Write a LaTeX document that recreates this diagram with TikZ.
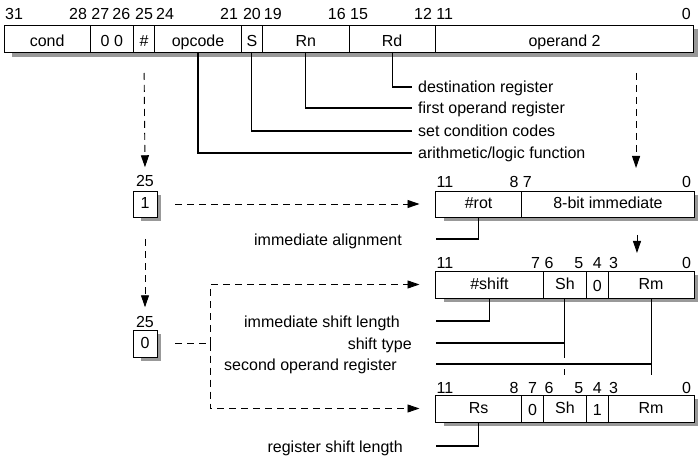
\documentclass[tikz,border=0pt]{standalone}
\usepackage{fontspec}
\setmainfont{Liberation Sans}
\usetikzlibrary{arrows.meta,positioning,backgrounds}

\begin{document}
\begin{tikzpicture}[x=1pt,y=-1pt,
  txt/.style={font=\fontsize{16pt}{19pt}\selectfont,inner sep=0pt},
  fld/.style={txt,draw,fill=white,line width=0.9pt,outer sep=0pt,
              minimum height=27pt,text height=10pt,text depth=0pt},
  nb/.style={minimum width=#1*21.56pt},
  numl/.style={txt,anchor=south west,xshift=1pt,yshift=#1},
  numr/.style={txt,anchor=south east,xshift=-3pt,yshift=#1},
  numc/.style={txt,anchor=south,yshift=#1},
  lbl/.style={txt,text height=12pt,text depth=0pt},
  lead/.style={line width=1.1pt},
  dsh/.style={line width=0.9pt,dash pattern=on 7pt off 5pt},
  dar/.style={dsh,-{Triangle[length=12pt,width=8pt]}},
  shd/.style={fill=black!40}]
\useasboundingbox (0,0) rectangle (698,462);

% instruction word
\node[fld,nb=4,text height=16pt,anchor=north west] (cond) at (4,25) {cond};
\node[fld,nb=2,text height=16pt,right=0pt of cond] (zz) {0 0};
\node[fld,nb=1,text height=16pt,right=0pt of zz] (hash) {\#};
\node[fld,nb=4,text height=16pt,right=0pt of hash] (opc) {opcode};
\node[fld,nb=1,text height=16pt,right=0pt of opc] (sbit) {S};
\node[fld,nb=4,text height=16pt,right=0pt of sbit] (rn) {Rn};
\node[fld,nb=4,text height=16pt,right=0pt of rn] (rd) {Rd};
\node[fld,nb=12,text height=16pt,right=0pt of rd] (op2) {operand 2};

\node[numl=5.5pt] at (cond.north west) {31};
\node[numr=5.5pt] at (cond.north east) {28};
\node[numl=5.5pt] at (zz.north west) {27};
\node[numr=5.5pt] at (zz.north east) {26};
\node[numc=5.5pt] at (hash.north) {25};
\node[numl=5.5pt] at (opc.north west) {24};
\node[numr=5.5pt] at (opc.north east) {21};
\node[numc=5.5pt] at (sbit.north) {20};
\node[numl=5.5pt] at (rn.north west) {19};
\node[numr=5.5pt] at (rn.north east) {16};
\node[numl=5.5pt] at (rd.north west) {15};
\node[numr=5.5pt] at (rd.north east) {12};
\node[numl=5.5pt] at (op2.north west) {11};
\node[numr=5.5pt] at (op2.north east) {0};

\node[lbl,anchor=west] (tdst) at (418,87) {destination register};
\node[lbl,anchor=west] (tfirst) at (418,108) {first operand register};
\node[lbl,anchor=west] (tset) at (418,131) {set condition codes};
\node[lbl,anchor=west] (tarith) at (418,153) {arithmetic/logic function};
\draw[lead] (rd.south) |- ([xshift=-6pt]tdst.west);
\draw[lead] (rn.south) |- ([xshift=-6pt]tfirst.west);
\draw[lead] (sbit.south) |- ([xshift=-6pt]tset.west);
\draw[lead] (opc.south) |- ([xshift=-6pt]tarith.west);

% bit 25 boxes
\node[fld,minimum width=24pt,minimum height=26pt,anchor=north west] (one) at (133,191) {1};
\node[numc=4pt] (lone) at (one.north) {25};
\node[fld,minimum width=24pt,anchor=north west] (zero) at (133,330) {0};
\node[numc=2pt] (lzero) at (zero.north) {25};

% immediate operand
\node[fld,nb=4,minimum height=26pt,anchor=north west] (rot) at (435.5,191) {\#rot};
\node[fld,nb=8,minimum height=26pt,right=0pt of rot] (imm) {8-bit immediate};
\node[numl=3pt] at (rot.north west) {11};
\node[numr=3pt] at (rot.north east) {8};
\node[numl=3pt] at (imm.north west) {7};
\node[numr=3pt] at (imm.north east) {0};

% register, immediate shift
\node[fld,nb=5,anchor=north west] (shamt) at (435.5,271) {\#shift};
\node[fld,nb=2,right=0pt of shamt] (sha) {Sh};
\node[fld,nb=1,text height=13pt,right=0pt of sha] (zb) {0};
\node[fld,nb=4,right=0pt of zb] (rma) {Rm};
\node[numl=2pt] at (shamt.north west) {11};
\node[numr=2pt] at (shamt.north east) {7};
\node[numl=2pt] at (sha.north west) {6};
\node[numr=2pt] at (sha.north east) {5};
\node[numc=2pt] at (zb.north) {4};
\node[numl=2pt] at (rma.north west) {3};
\node[numr=2pt] at (rma.north east) {0};

% register, register shift
\node[fld,nb=4,anchor=north west] (rs) at (435.5,395) {Rs};
\node[fld,nb=1,text height=13pt,right=0pt of rs] (zc) {0};
\node[fld,nb=2,right=0pt of zc] (shb) {Sh};
\node[fld,nb=1,text height=13pt,right=0pt of shb] (oc) {1};
\node[fld,nb=4,right=0pt of oc] (rmb) {Rm};
\node[numl=1pt] at (rs.north west) {11};
\node[numr=1pt] at (rs.north east) {8};
\node[numc=1pt] at (zc.north) {7};
\node[numl=1pt] at (shb.north west) {6};
\node[numr=1pt] at (shb.north east) {5};
\node[numc=1pt] at (oc.north) {4};
\node[numl=1pt] at (rmb.north west) {3};
\node[numr=1pt] at (rmb.north east) {0};

% shadows
\begin{scope}[on background layer]
\fill[shd] ([xshift=8pt,yshift=-4pt]cond.north west) rectangle ([xshift=4pt,yshift=-5pt]op2.south east);
\fill[shd] ([xshift=8pt,yshift=-4pt]one.north west) rectangle ([xshift=4pt,yshift=-4pt]one.south east);
\fill[shd] ([xshift=8pt,yshift=-4pt]zero.north west) rectangle ([xshift=4pt,yshift=-4pt]zero.south east);
\fill[shd] ([xshift=8pt,yshift=-4pt]rot.north west) rectangle ([xshift=4pt,yshift=-4pt]imm.south east);
\fill[shd] ([xshift=8pt,yshift=-4pt]shamt.north west) rectangle ([xshift=4pt,yshift=-4pt]rma.south east);
\fill[shd] ([xshift=8pt,yshift=-4pt]rs.north west) rectangle ([xshift=4pt,yshift=-4pt]rmb.south east);
\end{scope}

% lower labels
\node[lbl,anchor=east] (talign) at (402,239) {immediate alignment};
\node[lbl,anchor=east] (tshl) at (400,321) {immediate shift length};
\node[lbl,anchor=east] (ttype) at (412,343) {shift type};
\node[lbl,anchor=east] (tsec) at (397,364) {second operand register};
\node[lbl,anchor=east] (trsl) at (403,446) {register shift length};
\draw[lead] (rot.south) |- (rot.west |- talign.east);
\draw[lead] (shamt.south) |- (shamt.west |- tshl.east);
\draw[lead] (sha.south) -- ++(0,60) (sha.south |- ttype.east) -- (shamt.west |- ttype.east);
\draw[lead] ([yshift=-71pt]sha.south) -- ([yshift=-77pt]sha.south);
\draw[lead] (rma.south) -- ++(0,77) (rma.south |- tsec.east) -- (shamt.west |- tsec.east);
\draw[lead] (rs.south) |- (rs.west |- trsl.east);

% dashed paths
\coordinate (o2) at ([xshift=71.5pt,yshift=-21pt]op2.south);
\coordinate (immtop) at ([yshift=23pt]imm.north);
\draw[dar] ([yshift=-21pt]hash.south) -- ([yshift=8pt]lone.north);
\draw[dar] (o2) -- (o2 |- immtop);
\draw[dar] ([xshift=29pt,yshift=-18pt]imm.south) -- ([xshift=29pt,yshift=-36pt]imm.south);
\draw[dar] ([xshift=18pt]one.east) -- ([xshift=-16pt]rot.west);
\draw[dar] ([yshift=-22pt]one.south) -- ([yshift=9pt]lzero.north);
\coordinate (split) at ([xshift=53pt]zero.east);
\draw[dsh] ([xshift=18pt]zero.east) -- (split);
\draw[dar] (split) |- ([xshift=-16pt]shamt.west);
\draw[dar] (split) |- ([xshift=-16pt]rs.west);
\end{tikzpicture}
\end{document}
